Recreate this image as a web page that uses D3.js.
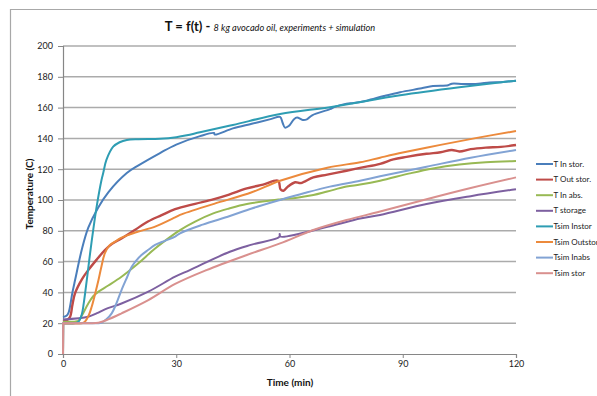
<!DOCTYPE html>
<html>
<head>
<meta charset="utf-8">
<script src="https://cdn.jsdelivr.net/npm/d3@7"></script>
<style>
  body { margin: 0; background: #fff; }
  svg { font-family: Lato, "Open Sans", sans-serif; }
</style>
</head>
<body>
<svg id="chart" width="597" height="396"></svg>
<script>
// series names as in the legend
const seriesNames = ['T In stor.', 'T Out stor.', 'T In abs.', 'T storage',
  'Tsim Instor', 'Tsim Outstor', 'Tsim Inabs', 'Tsim stor']
const seriesColors = ['#4A7EBB', '#BE4B48', '#98B954', '#7D60A0',
  '#2E9DB3', '#EC8A3C', '#82A3D4', '#D9908E']

const xTicks = [0, 30, 60, 90, 120]
const yTicks = [0, 20, 40, 60, 80, 100, 120, 140, 160, 180, 200]

// [time (min), temperature (C)]
const tInStor = [[0,24],[1,25],[1.5,27],[2.5,40],[3.2,48],[5,68],[6.7,82],[9.3,95],[12,105],[16.9,117.5],
  [20,122.5],[25.7,130.5],[30,136],[36.3,141.5],[40,143.5],[40.2,142.5],[45,146.5],[50,149.5],[55,152.5],
  [57.5,154],[58.2,150],[58.8,147],[59.8,148],[61.2,152.5],[62,153.5],[63.5,152],[64.6,152.4],[66,155],
  [70.7,159],[72,160.5],[75.1,162.5],[77,163],[80.4,164.5],[85,167.5],[89.3,170],[95,172.5],[98,174],
  [102,174.5],[103,175.5],[106,175.3],[110,175.5],[113,176.3],[116,176.5],[120,177.5]]
const tOutStor = [[0,22],[1,22],[1.85,24],[2.5,32],[3.2,39.5],[5,48.5],[6.7,54.5],[9,61.5],[11.1,67.5],
  [13,71.5],[15.5,75],[19,80.5],[22.5,86],[26,90],[29.7,94],[35,97.5],[39.8,100.4],[44,103.5],[48.7,107.5],
  [53,110],[57,112.5],[57.6,107],[58.4,106],[59.5,108.5],[61.5,111.5],[63,111],[66.3,114.7],[70,116.5],
  [75.1,119],[79,121],[84,123.5],[87.5,126.4],[91,128],[96.3,130],[100,131],[103,132.5],[105,131.5],
  [108,133],[112,134],[116,134.5],[120,135.7]]
const tInAbs = [[0,21],[3,21],[4.1,21.5],[5,25],[6.7,32.8],[8,37.5],[9.4,40.5],[12,44.5],[15.5,50.2],
  [19.9,58.8],[24.4,68.5],[29.7,78.3],[31,80.5],[35,86],[39.8,91.3],[44,94.5],[48.7,97.4],[57.5,100.4],
  [62,101.5],[66.3,103.2],[70,105.5],[75.1,108.7],[78.7,110],[84,112.5],[91.9,117.3],[98,120.5],
  [105,123],[112,124.5],[120,125.3]]
const tStorage = [[0,22.4],[6.7,24.2],[9,26.5],[11.1,29],[15.5,32.8],[22.6,40.5],[29.7,50.2],[33.6,54.5],
  [44.2,66.4],[50,71],[57.3,76],[57.4,78],[57.6,76.3],[70.7,83],[78.7,88],[84,90.3],[96.3,97.4],
  [108,102.5],[120,107]]
const tsimInstor = [[0,0],[0.05,20],[3,20],[4.1,21],[5,26],[5.5,33],[6.3,48],[7,62],[8,80.5],[9,97],
  [10.2,113],[10.7,118],[11.5,126],[13.3,134.6],[15,137.5],[16.9,139],[20,139.5],[25.7,139.8],[30,140.8],
  [32.8,142],[36.3,144],[45,148.7],[57.5,155.8],[71.5,160.6],[89.3,168],[105,173.2],[120,177.5]]
const tsimOutstor = [[0,0],[0.05,20],[5,20],[5.8,21],[6.8,25],[7.6,30.7],[8.5,39],[9.4,48],[10.2,57],
  [11.1,65.5],[12.3,70.5],[13.8,73],[15.5,75.5],[17.3,77.3],[20,79.5],[24.4,82.7],[29.7,88.7],[31,90.3],
  [40,97.5],[50,105],[57.5,112.5],[70,121],[78.7,124.5],[84,127.5],[90,130.8],[100,135.8],[110,140.5],
  [120,144.8]]
const tsimInabs = [[0,0],[0.05,20],[9,20],[10.2,20.3],[11.5,22.5],[12.9,26.4],[14,32],[15.5,41.5],
  [17,50],[18.2,56.7],[19.5,61],[20.8,64.3],[22.5,67.5],[24.4,70.8],[27,73.5],[29.7,76.2],[31,78.4],
  [37,84],[44.2,89.6],[50,94.5],[57.5,100],[64,104.5],[70.7,108.7],[78.7,112.5],[84,115.4],[96.3,121.6],
  [108,127.5],[120,132.5]]
const tsimStor = [[0,0],[0.05,20],[7,20],[9.4,20.3],[12,22.5],[15.5,26.4],[22.6,35],[29.7,45.5],
  [38,54.5],[48.7,64.3],[57.5,71.8],[66.3,80.5],[75.1,87],[84,92.5],[96.3,100.5],[108,107.8],[120,114.7]]

const seriesData = [tInStor, tOutStor, tInAbs, tStorage, tsimInstor, tsimOutstor, tsimInabs, tsimStor]

const svg = d3.select('#chart')
const plot = {left: 63, right: 516, top: 46, bottom: 354}

// outer chart frame
svg.append('path')
    .attr('d', 'M10.5,400 L10.5,9.5 L600,9.5')
    .attr('fill', 'none')
    .attr('stroke', '#A8A8A8')
    .attr('stroke-width', 1.2)

const x = d3.scaleLinear().domain([0, 120]).range([plot.left, plot.right])
const y = d3.scaleLinear().domain([0, 200]).range([plot.bottom, plot.top])

// gridlines
svg.append('g')
    .selectAll('line')
    .data(yTicks.slice(1))
    .enter()
    .append('line')
    .attr('x1', plot.left)
    .attr('x2', plot.right)
    .attr('y1', d => y(d))
    .attr('y2', d => y(d))
    .attr('stroke', '#ABABAB')
    .attr('stroke-width', 1.5)

// axes
const yAxis = svg.append('g')
    .attr('transform', `translate(${plot.left},0)`)
    .call(d3.axisLeft(y).tickValues(yTicks).tickSize(5).tickPadding(5))
const xAxis = svg.append('g')
    .attr('transform', `translate(0,${plot.bottom})`)
    .call(d3.axisBottom(x).tickValues(xTicks).tickSize(4).tickPadding(3))
;[xAxis, yAxis].forEach(a => {
  a.select('.domain').attr('stroke', '#868686').attr('stroke-width', 1.2)
  a.selectAll('.tick line').attr('stroke', '#868686')
  a.selectAll('text').attr('fill', '#222').attr('font-size', 9)
      .attr('font-family', 'Lato, "Open Sans", sans-serif')
})

// series lines
const line = d3.line()
    .x(d => x(d[0]))
    .y(d => y(d[1]))
    .curve(d3.curveCatmullRom.alpha(0.5))

// simulated series start with a jump at t=0: draw that part straight
function seriesPath (d) {
  if (d[0][1] === 0) {
    return `M${x(d[0][0])},${y(d[0][1])}L` + line(d.slice(1)).slice(1)
  }
  return line(d)
}

svg.append('g')
    .selectAll('path')
    .data(seriesData)
    .enter()
    .append('path')
    .attr('d', d => seriesPath(d))
    .attr('fill', 'none')
    .attr('stroke', (d, i) => seriesColors[i])
    .attr('stroke-width', (d, i) => i === 1 ? 2.4 : 2)
    .attr('stroke-linejoin', 'round')

// title
const title = svg.append('text')
    .attr('x', 270)
    .attr('y', 31)
    .attr('text-anchor', 'middle')
    .attr('fill', '#111')
title.append('tspan').attr('font-weight', 'bold').attr('font-size', 13).text('T = f(t) - ')
title.append('tspan').attr('font-style', 'italic').attr('font-size', 9.2)
    .text('8 kg avocado oil, experiments + simulation')

// axis titles
svg.append('text')
    .attr('x', 290)
    .attr('y', 386)
    .attr('text-anchor', 'middle')
    .attr('font-weight', 'bold')
    .attr('font-size', 10)
    .attr('fill', '#111')
    .text('Time (min)')
svg.append('text')
    .attr('transform', 'translate(33,194) rotate(-90)')
    .attr('text-anchor', 'middle')
    .attr('font-weight', 'bold')
    .attr('font-size', 10)
    .attr('fill', '#111')
    .text('Temperature (C)')

// legend
const legend = svg.append('g')
    .selectAll('g')
    .data(seriesNames)
    .enter()
    .append('g')
    .attr('transform', (d, i) => `translate(536,${164 + i * 15.6})`)
legend.append('line')
    .attr('x1', 0)
    .attr('x2', 17)
    .attr('stroke', (d, i) => seriesColors[i])
    .attr('stroke-width', 2)
legend.append('text')
    .attr('x', 17.5)
    .attr('dy', '0.33em')
    .attr('font-size', 8)
    .attr('fill', '#222')
    .text(d => d)
</script>
</body>
</html>
